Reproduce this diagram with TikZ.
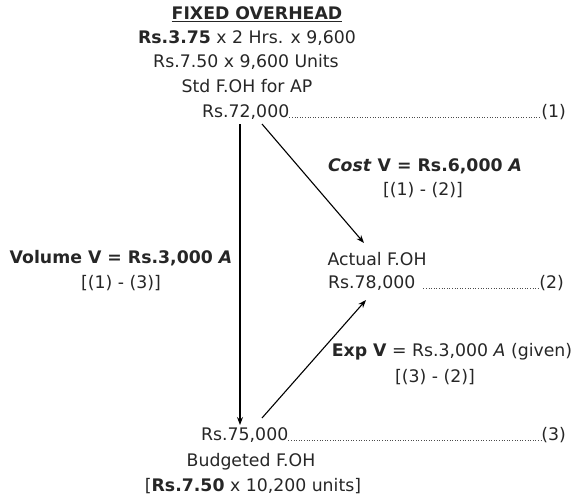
\documentclass[tikz,border=0pt]{standalone}
\usepackage{fontspec}
\setmainfont{DejaVu Sans}
\usetikzlibrary{arrows.meta}
\begin{document}
\begin{tikzpicture}[x=1pt,y=-1pt,
  font=\fontsize{17.3}{20}\selectfont,
  txt/.style={inner sep=0pt, anchor=center, text=black!85},
  lead/.style={dotted, line width=0.6pt, black!70},
  arr/.style={-{Stealth[length=8pt,width=6pt]}, line width=1.1pt}]
\useasboundingbox (0,0) rectangle (572,498);
% top block
\node[txt] (title) at (257,14) {\textbf{\underline{FIXED OVERHEAD}}};
\node[txt] (l1) at (247,38) {\textbf{Rs.3.75} x 2 Hrs. x 9,600};
\node[txt] (l2) at (246,62) {Rs.7.50 x 9,600 Units};
\node[txt] (l3) at (247,86) {Std F.OH for AP};
\node[txt, anchor=base west] (std) at (202,117) {Rs.72,000};
\node[txt, anchor=base east] (n1) at (566,117) {(1)};
\draw[lead] (std.base east) -- (n1.base west);
% actual
\node[txt] (act) at (377,259) {Actual F.OH};
\node[txt, anchor=base west] (actv) at (328,288) {Rs.78,000};
\node[txt, anchor=base east] (n2) at (564,288) {(2)};
\draw[lead] ([xshift=8pt]actv.base east) -- (n2.base west);
% budgeted
\node[txt, anchor=base west] (bud) at (201,440) {Rs.75,000};
\node[txt, anchor=base east] (n3) at (566,440) {(3)};
\draw[lead] (bud.base east) -- (n3.base west);
\node[txt] (bud1) at (251,462) {Budgeted F.OH};
\node[txt] (bud2) at (253,486) {[\textbf{Rs.7.50} x 10,200 units]};
% variance labels
\node[txt] (vol) at (121,258) {\textbf{Volume V = Rs.3,000 \textit{A}}};
\node[txt] (vol2) at (121,283) {[(1) - (3)]};
\node[txt] (cost) at (425,166) {\textbf{\textit{Cost} V = Rs.6,000 \textit{A}}};
\node[txt] (cost2) at (423,190) {[(1) - (2)]};
\node[txt] (exp) at (452,352) {\textbf{Exp V} = Rs.3,000 \textit{A} (given)};
\node[txt] (exp2) at (435,377) {[(3) - (2)]};
% connectors
\coordinate (vtop) at (240,124);
\coordinate (vbot) at (240,425);
\coordinate (ctop) at (262,124);
\coordinate (cend) at (364,243);
\coordinate (ebot) at (262,418);
\coordinate (eend) at (366,300);
\draw[arr] (vtop) -- (vbot);
\draw[arr] (ctop) -- (cend);
\draw[arr] (ebot) -- (eend);
\end{tikzpicture}
\end{document}
